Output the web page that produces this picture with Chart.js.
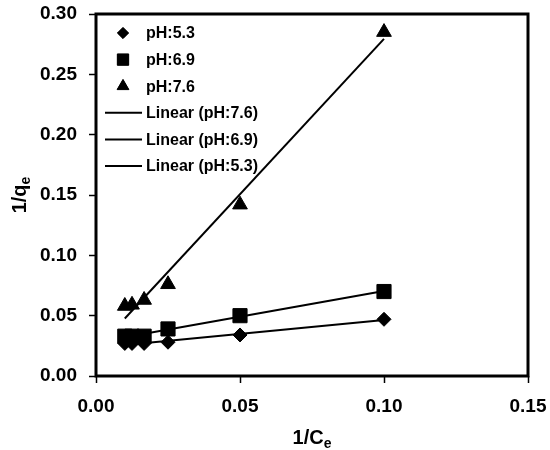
<!DOCTYPE html>
<html>
<head>
<meta charset="utf-8">
<script src="https://cdn.jsdelivr.net/npm/chart.js@4/dist/chart.umd.min.js"></script>
<style>
  body { margin: 0; background: #fff; }
  canvas { display: block; }
</style>
</head>
<body>
<canvas id="isotherm" width="550" height="450"></canvas>
<script>
// 1/Ce values shared by the three pH series
const invCe = [0.01, 0.0125, 0.0167, 0.025, 0.05, 0.1];
// 1/qe at each pH
const ph53 = [0.027, 0.027, 0.027, 0.028, 0.034, 0.047];
const ph69 = [0.033, 0.033, 0.033, 0.039, 0.050, 0.070];
const ph76 = [0.058, 0.059, 0.063, 0.076, 0.142, 0.285];
const seriesNames = ['pH:5.3', 'pH:6.9', 'pH:7.6'];
const xTicks = [0, 0.05, 0.10, 0.15];
const yTicks = [0, 0.05, 0.10, 0.15, 0.20, 0.25, 0.30];

const FONT = 'Arial, "Liberation Sans", sans-serif';

function toPoints(xs, ys) {
    return xs.map((x, i) => ({ x: x, y: ys[i] }));
}

// least squares trendline, drawn across the range of the data
function fitLine(xs, ys) {
    const n = xs.length;
    const mx = xs.reduce((a, b) => a + b, 0) / n;
    const my = ys.reduce((a, b) => a + b, 0) / n;
    let sxy = 0, sxx = 0;
    xs.forEach((x, i) => {
        sxy += (x - mx) * (ys[i] - my);
        sxx += (x - mx) * (x - mx);
    });
    const slope = sxy / sxx;
    const icpt = my - slope * mx;
    const x0 = Math.min(...xs), x1 = Math.max(...xs);
    return [{ x: x0, y: icpt + slope * x0 }, { x: x1, y: icpt + slope * x1 }];
}

function pointSet(label, ys, style, radius) {
    return {
        type: 'scatter',
        label: label,
        data: toPoints(invCe, ys),
        pointStyle: style,
        pointRadius: radius,
        pointHoverRadius: radius,
        backgroundColor: '#000',
        borderColor: '#000',
        borderWidth: 1,
        order: 0
    };
}

function trendSet(label, ys) {
    return {
        type: 'line',
        label: 'Linear (' + label + ')',
        data: fitLine(invCe, ys),
        borderColor: '#000',
        borderWidth: 2,
        pointRadius: 0,
        fill: false,
        order: 1
    };
}

// text with a subscript tail, centred on (x, y)
function drawSubText(ctx, main, sub, x, y) {
    const big = 'bold 20px ' + FONT;
    const small = 'bold 14px ' + FONT;
    ctx.font = big;
    const w1 = ctx.measureText(main).width;
    ctx.font = small;
    const w2 = ctx.measureText(sub).width;
    const start = x - (w1 + w2) / 2;
    ctx.textAlign = 'left';
    ctx.textBaseline = 'alphabetic';
    ctx.font = big;
    ctx.fillText(main, start, y);
    ctx.font = small;
    ctx.fillText(sub, start + w1, y + 4);
}

// let layout.padding alone decide the margins
function noEdgePadding(s) {
    s.paddingTop = 0;
    s.paddingRight = 0;
    s.paddingBottom = 0;
    s.paddingLeft = 0;
}

const framePlugin = {
    id: 'frame',
    afterDraw(chart) {
        const { ctx, chartArea: a } = chart;
        ctx.save();
        ctx.strokeStyle = '#000';
        ctx.lineWidth = 3;
        ctx.strokeRect(a.left, a.top, a.right - a.left, a.bottom - a.top);
        ctx.fillStyle = '#000';

        // axis titles
        drawSubText(ctx, '1/C', 'e', (a.left + a.right) / 2, 444);
        ctx.translate(26, (a.top + a.bottom) / 2);
        ctx.rotate(-Math.PI / 2);
        drawSubText(ctx, '1/q', 'e', 0, 0);
        ctx.restore();
    }
};

// legend sits inside the plot, top left
const boxLegend = {
    id: 'boxLegend',
    afterDraw(chart) {
        const ctx = chart.ctx;
        const a = chart.chartArea;
        ctx.save();
        ctx.font = 'bold 16px ' + FONT;
        ctx.textBaseline = 'middle';
        ctx.textAlign = 'left';
        ctx.fillStyle = '#000';
        chart.data.datasets.forEach((ds, i) => {
            const y = a.top + 19 + i * 26.6;
            if (ds.type === 'scatter') {
                Chart.helpers.drawPoint(ctx, {
                    pointStyle: ds.pointStyle,
                    radius: ds.pointRadius * 0.8,
                    borderWidth: 1
                }, a.left + 27, y);
                ctx.fillStyle = '#000';
                ctx.fill();
            } else {
                ctx.strokeStyle = '#000';
                ctx.lineWidth = 2;
                ctx.beginPath();
                ctx.moveTo(a.left + 9, y);
                ctx.lineTo(a.left + 46, y);
                ctx.stroke();
            }
            ctx.fillStyle = '#000';
            ctx.fillText(ds.label, a.left + 50, y + 1);
        });
        ctx.restore();
    }
};

const tickFont = { family: FONT, size: 19, weight: 'bold' };

new Chart(document.getElementById('isotherm').getContext('2d'), {
    data: {
        datasets: [
            pointSet(seriesNames[0], ph53, 'rectRot', 7),
            pointSet(seriesNames[1], ph69, 'rect', 10),
            pointSet(seriesNames[2], ph76, 'triangle', 8.5),
            trendSet(seriesNames[2], ph76),
            trendSet(seriesNames[1], ph69),
            trendSet(seriesNames[0], ph53)
        ]
    },
    options: {
        responsive: false,
        animation: false,
        layout: { padding: { top: 14, right: 22, left: 0, bottom: 0 } },
        plugins: {
            legend: { display: false },
            tooltip: { enabled: false }
        },
        scales: {
            x: {
                type: 'linear',
                min: 0,
                max: 0.15,
                afterBuildTicks: s => { s.ticks = xTicks.map(v => ({ value: v })); },
                ticks: {
                    callback: v => v.toFixed(2),
                    font: tickFont,
                    color: '#000',
                    padding: 12,
                    maxRotation: 0
                },
                grid: { drawOnChartArea: false, tickLength: 7, tickColor: '#000', tickWidth: 1.5 },
                border: { display: false },
                afterFit: s => { s.height = 74; noEdgePadding(s); }
            },
            y: {
                type: 'linear',
                min: 0,
                max: 0.30,
                afterBuildTicks: s => { s.ticks = yTicks.map(v => ({ value: v })); },
                ticks: {
                    callback: v => v.toFixed(2),
                    font: tickFont,
                    color: '#000',
                    padding: 12
                },
                grid: { drawOnChartArea: false, tickLength: 7, tickColor: '#000', tickWidth: 1.5 },
                border: { display: false },
                afterFit: s => { s.width = 96; noEdgePadding(s); }
            }
        }
    },
    plugins: [framePlugin, boxLegend]
});
</script>
</body>
</html>
